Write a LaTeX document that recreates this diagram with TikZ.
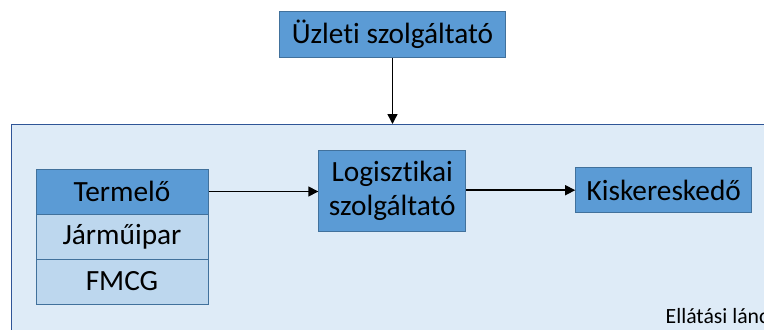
\documentclass[tikz,border=0pt]{standalone}
\usepackage{fontspec}
\setmainfont{Carlito}[Ligatures=NoCommon]
\usetikzlibrary{arrows.meta}

\definecolor{boxblue}{HTML}{5B9BD5}
\definecolor{boxedge}{HTML}{41719C}
\definecolor{rowblue}{HTML}{BDD7EE}
\definecolor{chainfill}{HTML}{DEEBF7}
\definecolor{chainedge}{HTML}{2F5597}

\tikzset{
  actor/.style={draw=boxedge, fill=boxblue, line width=0.75pt, inner sep=0pt,
    font=\fontsize{22}{25.5}\selectfont},
  sector/.style={actor, fill=rowblue},
  flow/.style={-{Triangle[length=7.5pt,width=7.5pt]}, line width=1.1pt}
}

\begin{document}
\begin{tikzpicture}[x=0.75pt,y=-0.75pt]
  \useasboundingbox (0,0) rectangle (764,329);
  \clip (0,0) rectangle (764,329);

  % supply chain area
  \draw [chainedge, fill=chainfill, line width=0.75pt] (11,124) rectangle (790,350);
  \coordinate (lanctop) at (392.5,124);
  \node (lanc) [anchor=base west, font=\fontsize{16.3}{19}\selectfont] at (661,323) {Ellátási lánc};

  \node (uzleti) [actor, minimum width=169.5pt, minimum height=34.5pt] at (392.5,34.5) {Üzleti szolgáltató};

  \node (termelo) [actor, minimum width=129pt, minimum height=33.75pt] at (122,191.5) {Termelő};
  \node (jarmu) [sector, minimum width=129pt, minimum height=33.75pt] at (122,236.5) {Járműipar};
  \node (fmcg) [sector, minimum width=129pt, minimum height=33.75pt] at (122,281.5) {FMCG};

  \node (logisztikai) [actor, align=center, minimum width=110.25pt, minimum height=60.75pt]
    at (392.3,191.3) {Logisztikai\\szolgáltató};
  \node (kisker) [actor, minimum width=132pt, minimum height=33.75pt] at (663.7,190.2) {Kiskereskedő};

  \draw [flow] (uzleti.south) -- (lanctop);
  \draw [flow] (termelo.east) -- (termelo.east -| logisztikai.west);
  \draw [flow] (logisztikai.east |- kisker.west) -- (kisker.west);
\end{tikzpicture}
\end{document}
